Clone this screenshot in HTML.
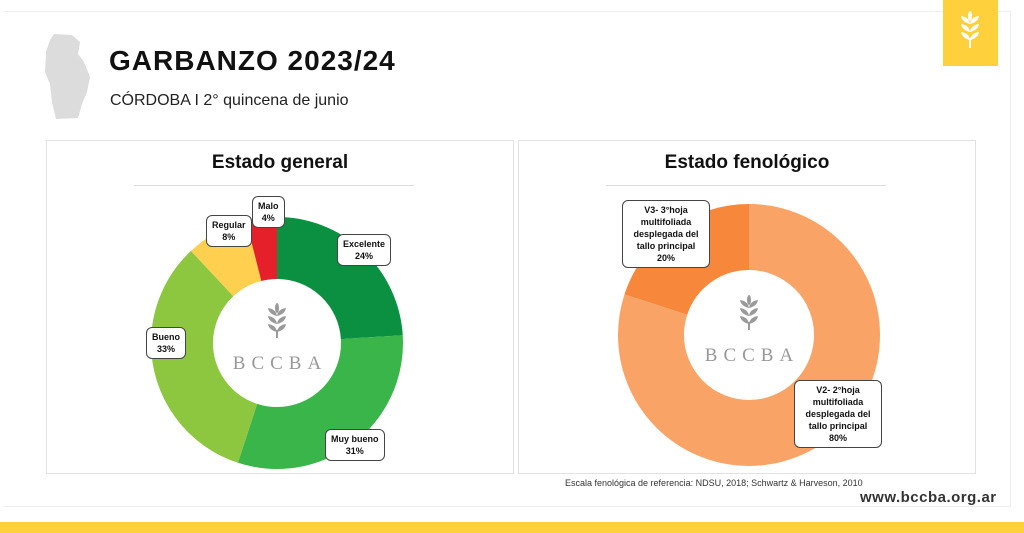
<!DOCTYPE html>
<html><head><meta charset="utf-8"><style>
body{margin:0;width:1024px;height:533px;background:#fff;overflow:hidden;position:relative;font-family:"Open Sans","Liberation Sans",sans-serif}
.a{position:absolute}
.lbl{position:absolute;background:#fff;border:1.5px solid #444;border-radius:6px;font:bold 9px "Liberation Sans",sans-serif;text-align:center;line-height:12px;padding:3px 5px;color:#111}
</style></head><body>
<div class="a" style="left:4px;top:11px;width:1006px;height:494px;border:1px solid #eee;border-left:none"></div>
<div class="a" style="left:943px;top:0;width:55px;height:66px;background:#fdd03c"></div>
<svg class="a" style="left:955px;top:10px" width="30" height="44" viewBox="0 0 30 44"><g fill="#fff"><ellipse cx="15" cy="6" rx="2" ry="5"/><path d="M15 14 q-8-2-9-8 q8 1 9 8z"/><path d="M15 14 q8-2 9-8 q-8 1-9 8z"/><path d="M15 22 q-8-2-9-8 q8 1 9 8z"/><path d="M15 22 q8-2 9-8 q-8 1-9 8z"/><path d="M15 30 q-8-2-9-8 q8 1 9 8z"/><path d="M15 30 q8-2 9-8 q-8 1-9 8z"/><rect x="14" y="28" width="2" height="10"/></g></svg>
<svg class="a" style="left:42px;top:32px" width="56" height="90"><path d="M12 2 L30 3 L38 10 L36 22 L42 30 L48 45 L45 60 L40 72 L36 86 L14 87 L10 70 L8 52 L3 40 L4 20 L8 8Z" fill="#dcdcdc"/></svg>
<div class="a" style="left:109px;top:45px;font:bold 28px 'Liberation Sans',sans-serif;letter-spacing:1px;color:#111">GARBANZO 2023/24</div>
<div class="a" style="left:110px;top:92px;font:16px 'Liberation Sans',sans-serif;color:#222">CÓRDOBA I 2° quincena de junio</div>
<div class="a" style="left:46px;top:140px;width:466px;height:332px;border:1.5px solid #e2e2e2"></div>
<div class="a" style="left:518px;top:140px;width:456px;height:332px;border:1.5px solid #e2e2e2"></div>
<div class="a" style="left:46px;top:152px;width:468px;text-align:center;font:bold 19px 'Liberation Sans',sans-serif;color:#111">Estado general</div>
<div class="a" style="left:134px;top:185px;width:280px;height:1px;background:#ddd"></div>
<div class="a" style="left:518px;top:152px;width:458px;text-align:center;font:bold 19px 'Liberation Sans',sans-serif;color:#111">Estado fenológico</div>
<div class="a" style="left:606px;top:185px;width:280px;height:1px;background:#ddd"></div>
<svg class="a" style="left:0;top:0" width="1024" height="533">
<defs><g id="w" fill="#9a9a9a"><ellipse cx="0" cy="-14" rx="2" ry="5"/><path d="M0 -6 q-8-2-9-8 q8 1 9 8z"/><path d="M0 -6 q8-2 9-8 q-8 1-9 8z"/><path d="M0 2 q-8-2-9-8 q8 1 9 8z"/><path d="M0 2 q8-2 9-8 q-8 1-9 8z"/><path d="M0 10 q-8-2-9-8 q8 1 9 8z"/><path d="M0 10 q8-2 9-8 q-8 1-9 8z"/><rect x="-1" y="8" width="2" height="8"/></g></defs>
<g transform="rotate(-90 277 343)" fill="none" stroke-width="62">
<circle cx="277" cy="343" r="95" stroke="#0a9040" stroke-dasharray="143.3 1000"/>
<circle cx="277" cy="343" r="95" stroke="#3ab54a" stroke-dasharray="185 1000" stroke-dashoffset="-143.3"/>
<circle cx="277" cy="343" r="95" stroke="#8dc63f" stroke-dasharray="197 1000" stroke-dashoffset="-328.3"/>
<circle cx="277" cy="343" r="95" stroke="#ffcf4f" stroke-dasharray="47.8 1000" stroke-dashoffset="-525.3"/>
<circle cx="277" cy="343" r="95" stroke="#e5202a" stroke-dasharray="24 1000" stroke-dashoffset="-573.1"/>
</g>
<g transform="rotate(-90 749 335)" fill="none" stroke-width="66">
<circle cx="749" cy="335" r="98" stroke="#f9a466" stroke-dasharray="492.6 1000"/>
<circle cx="749" cy="335" r="98" stroke="#f7873a" stroke-dasharray="123.2 1000" stroke-dashoffset="-492.6"/>
</g>
<g font-family="Liberation Serif,serif" font-size="19" fill="#999" text-anchor="middle" letter-spacing="6">
<text x="280" y="369">BCCBA</text><text x="752" y="361">BCCBA</text></g>
<use href="#w" x="277" y="322"/><use href="#w" x="749" y="314"/>
</svg>
<div class="lbl" style="left:252px;top:196px">Malo<br>4%</div>
<div class="lbl" style="left:206px;top:215px">Regular<br>8%</div>
<div class="lbl" style="left:337px;top:234px">Excelente<br>24%</div>
<div class="lbl" style="left:146px;top:327px">Bueno<br>33%</div>
<div class="lbl" style="left:325px;top:429px">Muy bueno<br>31%</div>
<div class="lbl" style="left:622px;top:200px;width:76px">V3- 3°hoja multifoliada desplegada del tallo principal<br>20%</div>
<div class="lbl" style="left:794px;top:380px;width:76px">V2- 2°hoja multifoliada desplegada del tallo principal<br>80%</div>
<div class="a" style="left:565px;top:478px;font:9px 'Liberation Sans',sans-serif;color:#333">Escala fenológica de referencia: NDSU, 2018; Schwartz &amp; Harveson, 2010</div>
<div class="a" style="left:860px;top:489px;font:bold 15px 'Liberation Sans',sans-serif;color:#333;letter-spacing:0.5px">www.bccba.org.ar</div>
<div class="a" style="left:0;top:522px;width:1024px;height:11px;background:#fdd03c"></div>
</body></html>
